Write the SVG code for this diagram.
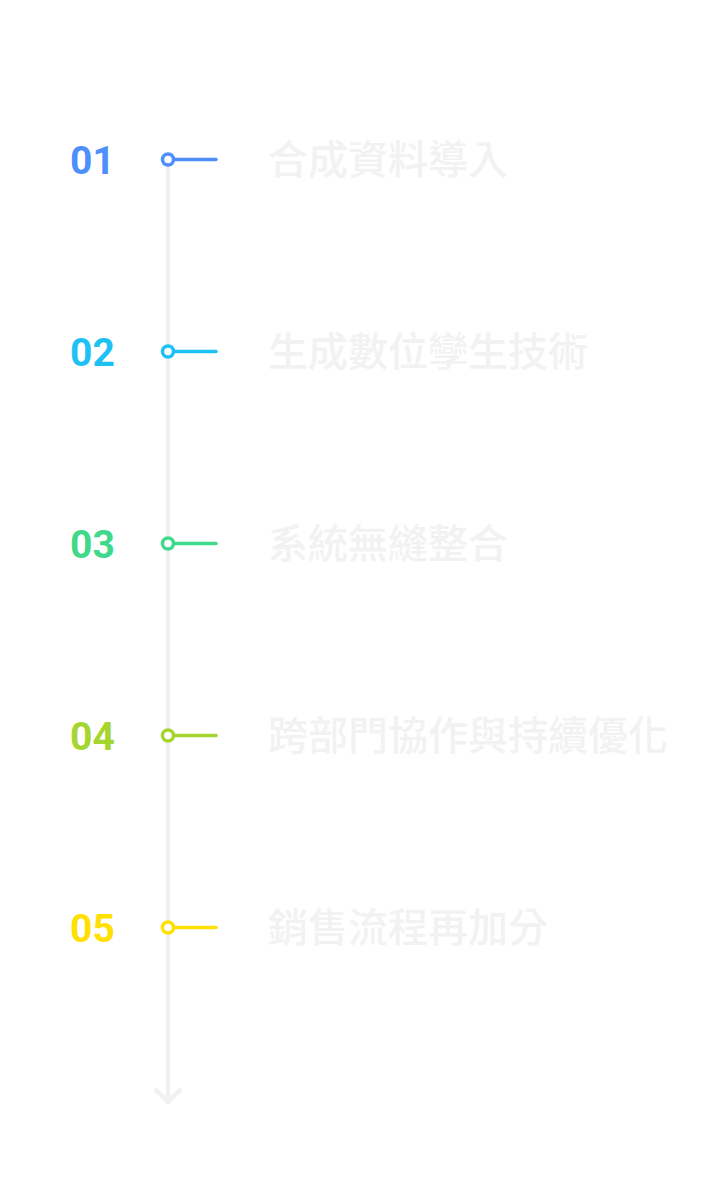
<svg xmlns="http://www.w3.org/2000/svg" width="720" height="1202" viewBox="0 0 720 1202">
<style>
.num{font-family:Roboto,"Liberation Sans",sans-serif;font-weight:700;font-size:39px}
.lbl{font-family:"Noto Sans CJK TC","Noto Sans CJK SC",sans-serif;font-weight:500;font-size:40px;fill:#f2f2f2}
.dot{fill:#fff;stroke-width:3.5}
.tick{stroke-width:3.5;stroke-linecap:round}
.axis{stroke:#f0f0f0;stroke-width:4;fill:none;stroke-linecap:round;stroke-linejoin:round}
</style>
<rect width="720" height="1202" fill="#fff"/>
<g id="connectors">
<line class="axis" x1="168" y1="160" x2="168" y2="1102"/>
<polyline class="axis" points="156,1090 168,1102 180,1090"/>
</g>
<g id="step1">
<text class="num" x="70" y="173.5" fill="#4f8ffb">01</text>
<line class="tick" x1="168" y1="159.5" x2="216" y2="159.5" stroke="#4f8ffb"/>
<circle class="dot" cx="168" cy="159.5" r="5.5" stroke="#4f8ffb"/>
<text class="lbl" x="268" y="174">合成資料導入</text>
</g>
<g id="step2">
<text class="num" x="70" y="365.5" fill="#1ec1f4">02</text>
<line class="tick" x1="168" y1="351.5" x2="216" y2="351.5" stroke="#1ec1f4"/>
<circle class="dot" cx="168" cy="351.5" r="5.5" stroke="#1ec1f4"/>
<text class="lbl" x="268" y="366">生成數位孿生技術</text>
</g>
<g id="step3">
<text class="num" x="70" y="557.5" fill="#3ed98b">03</text>
<line class="tick" x1="168" y1="543.5" x2="216" y2="543.5" stroke="#3ed98b"/>
<circle class="dot" cx="168" cy="543.5" r="5.5" stroke="#3ed98b"/>
<text class="lbl" x="268" y="558">系統無縫整合</text>
</g>
<g id="step4">
<text class="num" x="70" y="749.5" fill="#a5d62f">04</text>
<line class="tick" x1="168" y1="735.5" x2="216" y2="735.5" stroke="#a5d62f"/>
<circle class="dot" cx="168" cy="735.5" r="5.5" stroke="#a5d62f"/>
<text class="lbl" x="268" y="750">跨部門協作與持續優化</text>
</g>
<g id="step5">
<text class="num" x="70" y="941.5" fill="#ffe000">05</text>
<line class="tick" x1="168" y1="927.5" x2="216" y2="927.5" stroke="#ffe000"/>
<circle class="dot" cx="168" cy="927.5" r="5.5" stroke="#ffe000"/>
<text class="lbl" x="268" y="942">銷售流程再加分</text>
</g>
</svg>
